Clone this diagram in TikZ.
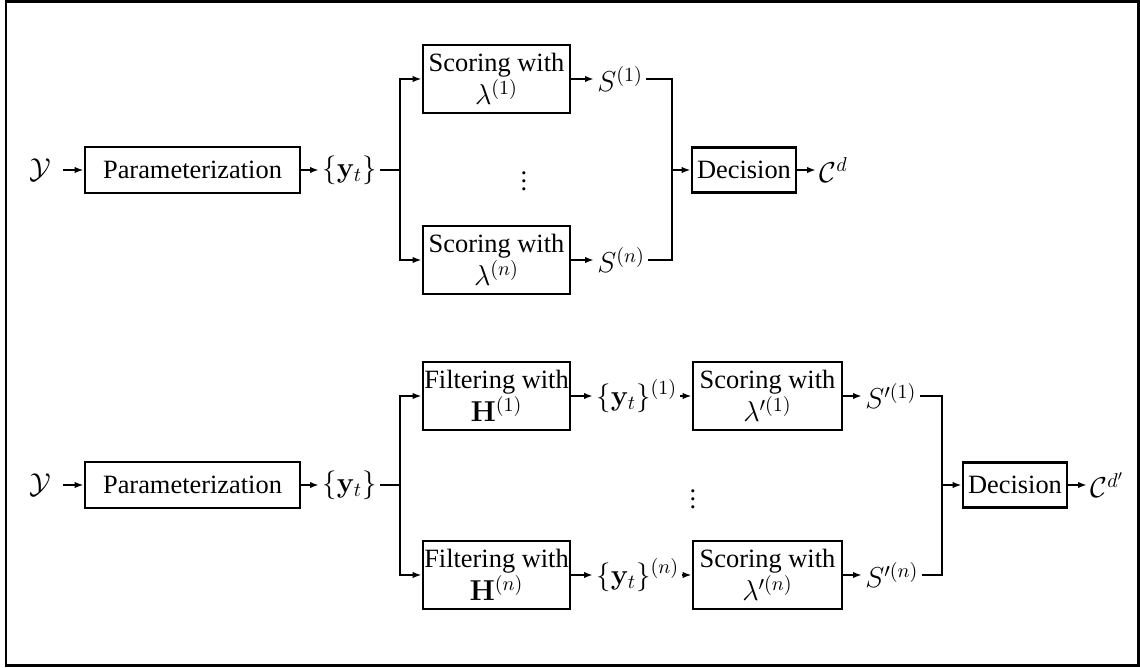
\documentclass[tikz,border=0pt]{standalone}
\usepackage[no-math]{fontspec}
\setmainfont{Liberation Serif}
\DeclareMathSizes{13.2}{14.5}{9.8}{7}
\usetikzlibrary{arrows.meta}
\begin{document}
\begin{tikzpicture}[x=0.5pt,y=-0.5pt,
  line width=1.4pt,
  >={Latex[length=4.5pt,width=3.2pt]},
  every node/.style={font=\rmfamily\fontsize{13.2}{15}\selectfont},
  blk/.style={draw, line width=1.4pt, inner sep=0pt, align=center},
  parbox/.style={blk, minimum width=107.5pt, minimum height=23pt},
  twobox/.style={blk, minimum width=73.5pt, minimum height=34pt},
  twoboxw/.style={blk, minimum width=74.5pt, minimum height=34pt},
  decbox/.style={blk, minimum width=52pt, minimum height=22.5pt},
  lbl/.style={inner sep=1pt, anchor=west},
  src/.style={inner sep=1pt}
]
\useasboundingbox (0,0) rectangle (1140,668);
\draw[line width=1.4pt] (6,1.5) rectangle (1138.5,665.5);

% ---------- top row ----------
\node[src] (Y1) at (40,170) {$\mathcal{Y}$};
\node[parbox] (P1) at (192.5,170) {Parameterization};
\node[lbl] (yt1) at (319,170) {$\{\mathbf{y}_t\}$};
\coordinate (j1) at (400,170);
\node[twobox] (Sc1) at (496.5,79) {Scoring with\\$\lambda^{(1)}$};
\node[twobox] (Scn) at (496.5,260) {Scoring with\\$\lambda^{(n)}$};
\node (dt1) at (524,175) {$\vdots$};
\node[lbl] (S1) at (594,79) {$S^{(1)}$};
\node[lbl] (Sn) at (594,260) {$S^{(n)}$};
\coordinate (k1) at (672,170);
\node[decbox] (D1) at (744,170) {Decision};
\node[lbl] (C1) at (816,170) {$\mathcal{C}^{d}$};

\draw[->, shorten <=4.5pt] (Y1) -- (P1);
\draw[->] (P1.east) -- (yt1.west);
\draw (yt1.east) -- (j1);
\draw[->] (j1) |- (Sc1.west);
\draw[->] (j1) |- (Scn.west);
\draw[->] (Sc1.east) -- (S1.west);
\draw[->] (Scn.east) -- (Sn.west);
\draw (S1.east) -| (k1);
\draw (Sn.east) -| (k1);
\draw[->] (k1) -- (D1.west);
\draw[->] (D1.east) -- (C1.west);

% ---------- bottom row ----------
\node[src] (Y2) at (40,485) {$\mathcal{Y}$};
\node[parbox] (P2) at (192.5,485) {Parameterization};
\node[lbl] (yt2) at (319,485) {$\{\mathbf{y}_t\}$};
\coordinate (j2) at (400,485);
\node[twobox] (F1) at (496.5,396) {Filtering with\\$\mathbf{H}^{(1)}$};
\node[twobox] (Fn) at (496.5,575) {Filtering with\\$\mathbf{H}^{(n)}$};
\node[lbl] (y1) at (593,396) {$\{\mathbf{y}_t\}^{(1)}$};
\node[lbl] (yn) at (593,575) {$\{\mathbf{y}_t\}^{(n)}$};
\node[twoboxw] (G1) at (767.5,396) {Scoring with\\$\lambda'^{(1)}$};
\node[twoboxw] (Gn) at (767.5,575) {Scoring with\\$\lambda'^{(n)}$};
\node (dt2) at (693,493) {$\vdots$};
\node[lbl] (T1) at (862,396) {$S'^{(1)}$};
\node[lbl] (Tn) at (862,575) {$S'^{(n)}$};
\coordinate (k2) at (942,485);
\node[decbox] (D2) at (1015,485) {Decision};
\node[lbl] (C2) at (1087,485) {$\mathcal{C}^{d'}$};

\draw[->, shorten <=4.5pt] (Y2) -- (P2);
\draw[->] (P2.east) -- (yt2.west);
\draw (yt2.east) -- (j2);
\draw[->] (j2) |- (F1.west);
\draw[->] (j2) |- (Fn.west);
\draw[->] (F1.east) -- (y1.west);
\draw[->] (Fn.east) -- (yn.west);
\draw[->] (y1.east) -- (G1.west);
\draw[->] (yn.east) -- (Gn.west);
\draw[->] (G1.east) -- (T1.west);
\draw[->] (Gn.east) -- (Tn.west);
\draw (T1.east) -| (k2);
\draw (Tn.east) -| (k2);
\draw[->] (k2) -- (D2.west);
\draw[->] (D2.east) -- (C2.west);
\end{tikzpicture}
\end{document}
